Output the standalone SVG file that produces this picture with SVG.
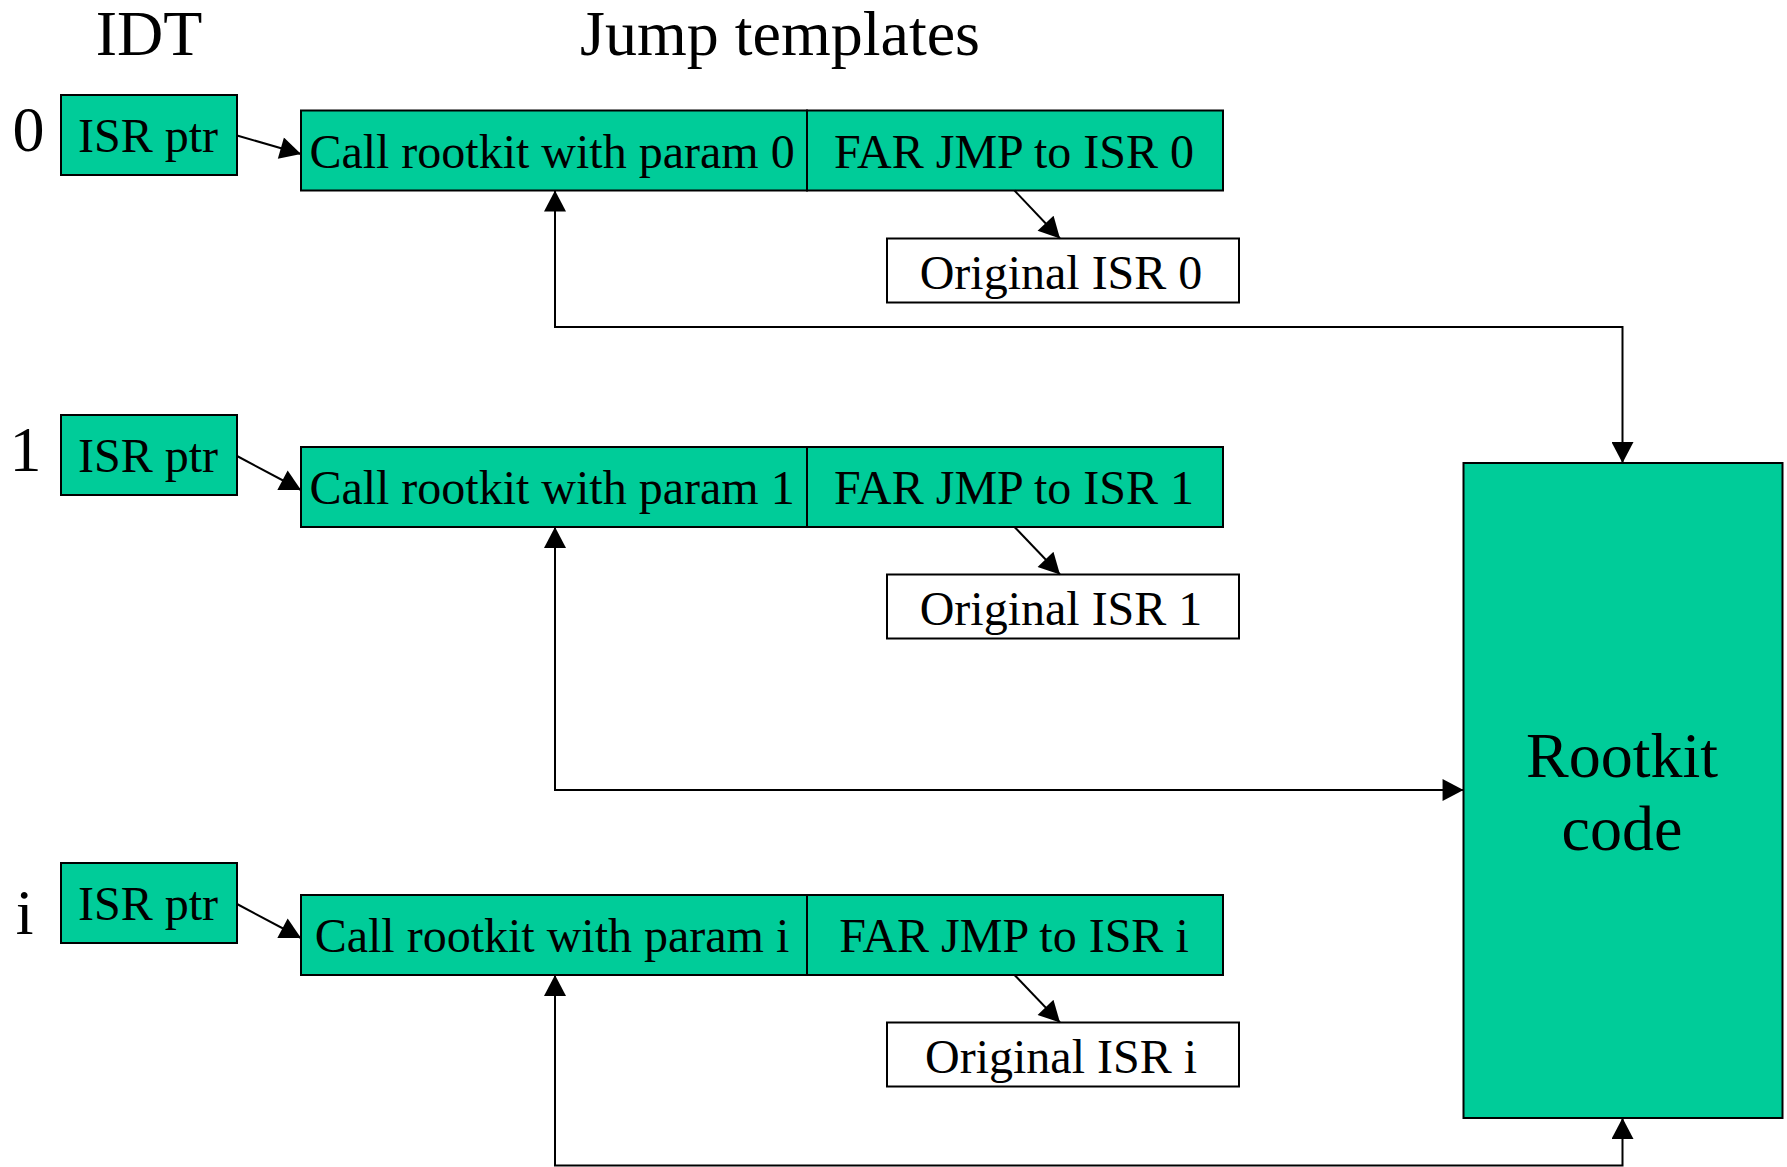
<svg xmlns="http://www.w3.org/2000/svg" width="1787" height="1167" viewBox="0 0 1787 1167">
  <style>
    .box { fill: #00cc99; stroke: #000; stroke-width: 2; }
    .plain { fill: #fff; stroke: #000; stroke-width: 2; }
    .t { font-family: "Liberation Serif", "Times New Roman", serif; font-size: 48px; fill: #000; text-anchor: middle; }
    .big { font-family: "Liberation Serif", "Times New Roman", serif; font-size: 64px; fill: #000; text-anchor: middle; }
    .wire { fill: none; stroke: #000; stroke-width: 2; }
  </style>
  <defs>
    <marker id="arrow" markerUnits="userSpaceOnUse" markerWidth="22" markerHeight="22" viewBox="0 0 20 21" refX="20" refY="10.5" orient="auto-start-reverse">
      <path d="M0,0 L20,10.5 L0,21 z" fill="#000"/>
    </marker>
  </defs>

  <!-- column headings -->
  <text class="big" x="149" y="55">IDT</text>
  <text class="big" x="780" y="55">Jump templates</text>

  <!-- IDT slot indices -->
  <text class="big" x="28.5" y="151">0</text>
  <text class="big" x="25.5" y="471">1</text>
  <text class="big" x="24.7" y="934">i</text>

  <!-- row 0 -->
  <g id="isr-ptr-0">
    <rect class="box" x="61" y="95" width="176" height="80"/>
    <text class="t" x="148" y="152">ISR ptr</text>
  </g>
  <g id="call-0">
    <rect class="box" x="301" y="110.5" width="506" height="80"/>
    <text class="t" x="552" y="167.5">Call rootkit with param 0</text>
  </g>
  <g id="jmp-0">
    <rect class="box" x="807" y="110.5" width="416" height="80"/>
    <text class="t" x="1014" y="167.5">FAR JMP to ISR 0</text>
  </g>
  <g id="orig-0">
    <rect class="plain" x="887" y="238.5" width="352" height="64"/>
    <text class="t" x="1061" y="288.5">Original ISR 0</text>
  </g>

  <!-- row 1 -->
  <g id="isr-ptr-1">
    <rect class="box" x="61" y="415" width="176" height="80"/>
    <text class="t" x="148" y="472">ISR ptr</text>
  </g>
  <g id="call-1">
    <rect class="box" x="301" y="447" width="506" height="80"/>
    <text class="t" x="552" y="504">Call rootkit with param 1</text>
  </g>
  <g id="jmp-1">
    <rect class="box" x="807" y="447" width="416" height="80"/>
    <text class="t" x="1014" y="504">FAR JMP to ISR 1</text>
  </g>
  <g id="orig-1">
    <rect class="plain" x="887" y="574.5" width="352" height="64"/>
    <text class="t" x="1061" y="624.5">Original ISR 1</text>
  </g>

  <!-- row i -->
  <g id="isr-ptr-i">
    <rect class="box" x="61" y="863" width="176" height="80"/>
    <text class="t" x="148" y="920">ISR ptr</text>
  </g>
  <g id="call-i">
    <rect class="box" x="301" y="895" width="506" height="80"/>
    <text class="t" x="552" y="952">Call rootkit with param i</text>
  </g>
  <g id="jmp-i">
    <rect class="box" x="807" y="895" width="416" height="80"/>
    <text class="t" x="1014" y="952">FAR JMP to ISR i</text>
  </g>
  <g id="orig-i">
    <rect class="plain" x="887" y="1022.5" width="352" height="64"/>
    <text class="t" x="1061" y="1072.5">Original ISR i</text>
  </g>

  <!-- shared handler -->
  <g id="rootkit">
    <rect class="box" x="1463.5" y="463" width="319" height="655"/>
    <text class="big" x="1622" y="777">Rootkit</text>
    <text class="big" x="1622" y="850">code</text>
  </g>

  <g id="connectors">
    <!-- IDT entry to jump template -->
    <line class="wire" x1="237" y1="135.5" x2="301" y2="154" marker-end="url(#arrow)"/>
    <line class="wire" x1="237" y1="456" x2="301" y2="490" marker-end="url(#arrow)"/>
    <line class="wire" x1="237" y1="904" x2="301" y2="938" marker-end="url(#arrow)"/>
    <!-- far jump to original handler -->
    <line class="wire" x1="1014.5" y1="190.5" x2="1060" y2="238.5" marker-end="url(#arrow)"/>
    <line class="wire" x1="1014.5" y1="527" x2="1060" y2="574.5" marker-end="url(#arrow)"/>
    <line class="wire" x1="1014.5" y1="975" x2="1060" y2="1022.5" marker-end="url(#arrow)"/>
    <!-- call into rootkit and return -->
    <path class="wire" d="M555,190.5 L555,327 L1622.5,327 L1622.5,463" marker-start="url(#arrow)" marker-end="url(#arrow)"/>
    <path class="wire" d="M555,527 L555,790 L1463.5,790" marker-start="url(#arrow)" marker-end="url(#arrow)"/>
    <path class="wire" d="M555,975 L555,1165.5 L1622.5,1165.5 L1622.5,1118" marker-start="url(#arrow)" marker-end="url(#arrow)"/>
  </g>
</svg>
